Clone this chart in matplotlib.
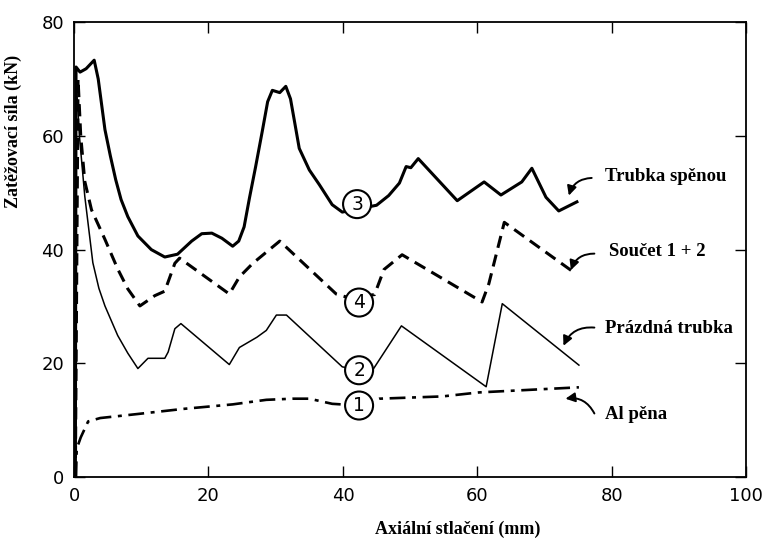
import matplotlib.pyplot as plt

# Al pena (1)
x_foam = [0.3, 0.4, 1.0, 2.1, 3.9, 9.4, 16.2, 23.6, 28.6, 32.5, 35.0, 38.4, 42.4, 45.4, 54.8, 60.2, 75.1]
y_foam = [0.0, 5.0, 7.0, 9.8, 10.4, 11.1, 12.0, 12.8, 13.6, 13.8, 13.8, 12.9, 12.6, 13.8, 14.2, 14.9, 15.8]

# prazdna trubka (2)
x_tube = [0.2, 0.3, 0.8, 1.6, 2.8, 3.7, 4.6, 6.5, 8.0, 9.5, 11.0, 13.5, 14.0, 15.0, 15.9, 23.1, 24.6, 27.2,
          28.6, 30.1, 31.6, 39.9, 42.4, 44.4, 48.7, 61.3, 63.7, 75.1]
y_tube = [0.0, 70.0, 60.0, 49.4, 37.7, 33.2, 30.1, 24.9, 21.8, 19.1, 20.9, 20.9, 22.0, 26.1, 27.0, 19.8, 22.8,
          24.6, 25.8, 28.5, 28.5, 19.4, 18.8, 18.8, 26.6, 15.9, 30.5, 19.7]

# trubka s penou (3)
x_filled = [0.2, 0.3, 0.9, 1.8, 3.0, 3.6, 4.6, 5.4, 6.2, 7.0, 8.0, 9.5, 11.5, 13.5, 15.4, 17.5, 19.0,
            20.5, 22.0, 23.6, 24.5, 25.3, 26.1, 27.0, 28.0, 28.8, 29.5, 30.6, 31.5, 32.2, 32.8, 33.5,
            35.0, 36.5, 38.4, 39.9, 45.0, 46.8, 48.4, 49.4, 50.1, 51.2, 57.0, 61.0, 63.5, 66.6, 68.1,
            70.2, 72.1, 74.8]
y_filled = [0.0, 72.1, 71.2, 71.8, 73.3, 70.0, 61.1, 56.5, 52.3, 48.8, 45.8, 42.4, 40.0, 38.7, 39.2, 41.5, 42.8,
            42.9, 42.0, 40.6, 41.5, 44.0, 49.1, 54.5, 60.8, 66.0, 68.0, 67.6, 68.7, 66.5, 62.5, 57.8,
            54.0, 51.4, 47.9, 46.6, 47.8, 49.5, 51.7, 54.6, 54.4, 56.0, 48.6, 51.9, 49.6, 51.9, 54.3,
            49.2, 46.8, 48.4]

# soucet 1 + 2 (4)
x_sum = [0.2, 0.6, 1.0, 1.6, 2.6, 4.6, 6.5, 8.0, 9.8, 12.0, 13.5, 15.0, 15.7, 23.1, 24.6, 26.6, 30.6,
         39.0, 41.0, 44.7, 46.1, 48.8, 60.7, 61.7, 64.0, 74.0]
y_sum = [0.0, 70.0, 60.0, 52.0, 47.0, 41.8, 36.6, 33.1, 30.1, 31.9, 32.7, 37.6, 38.5, 32.2, 35.2, 37.6, 41.5,
         32.2, 31.5, 32.1, 36.5, 39.1, 30.8, 34.0, 44.8, 36.3]

curve_ids = ['1', '2', '3', '4']
id_x = [42.4, 42.4, 42.1, 42.4]
id_y = [12.6, 18.8, 48.0, 30.7]

names = ['Trubka spěnou', 'Součet 1 + 2', 'Prázdná trubka', 'Al pěna']
name_xy = [(79.0, 52.8), (79.6, 39.7), (79.0, 26.2), (79.0, 11.1)]
arrow_tail = [(77.0, 52.6), (77.4, 39.3), (77.4, 26.3), (77.4, 11.2)]
arrow_head = [(73.6, 49.5), (73.9, 36.4), (72.8, 23.1), (73.1, 13.8)]

serif = 'Liberation Serif'

fig = plt.figure(figsize=(7.71, 5.38), dpi=100)
ax = fig.add_axes([0.096, 0.113, 0.872, 0.846])

ax.plot(x_foam, y_foam, color='black', lw=1.9, dashes=(6, 2.5, 1.5, 2.5))
ax.plot(x_tube, y_tube, color='black', lw=1.1)
ax.plot(x_filled, y_filled, color='black', lw=2.2)
ax.plot(x_sum, y_sum, color='black', lw=2.2, dashes=(4, 2.3))

for cid, cx, cy in zip(curve_ids, id_x, id_y):
    ax.text(cx, cy, cid, ha='center', va='center', fontsize=13.5, zorder=5,
            bbox=dict(boxstyle='circle,pad=0.24', fc='white', ec='black', lw=1.5))

for name, txy, tail, head in zip(names, name_xy, arrow_tail, arrow_head):
    ax.text(txy[0], txy[1], name, ha='left', va='center', fontsize=13.5,
            fontweight='bold', family=serif)
    ax.annotate('', xy=head, xytext=tail,
                arrowprops=dict(arrowstyle='-|>', color='black', lw=1.4,
                                mutation_scale=14, shrinkA=0, shrinkB=0,
                                connectionstyle='arc3,rad=0.35'))

ax.set_xlim(0, 100)
ax.set_ylim(0, 80)
ax.set_xticks([0, 20, 40, 60, 80, 100])
ax.set_yticks([0, 20, 40, 60, 80])
ax.tick_params(direction='in', length=8, width=1, top=True, right=True,
               labelsize=13, pad=7)
for s in ax.spines.values():
    s.set_linewidth(1.3)

ax.set_xlabel('Axiální stlačení (mm)', fontsize=13, fontweight='bold', family=serif)
ax.xaxis.set_label_coords(0.571, -0.095)
ax.set_ylabel('Zatěžovací síla (kN)', fontsize=13, fontweight='bold', family=serif)
ax.yaxis.set_label_coords(-0.078, 0.76)

fig.savefig('out.png', dpi=100)
